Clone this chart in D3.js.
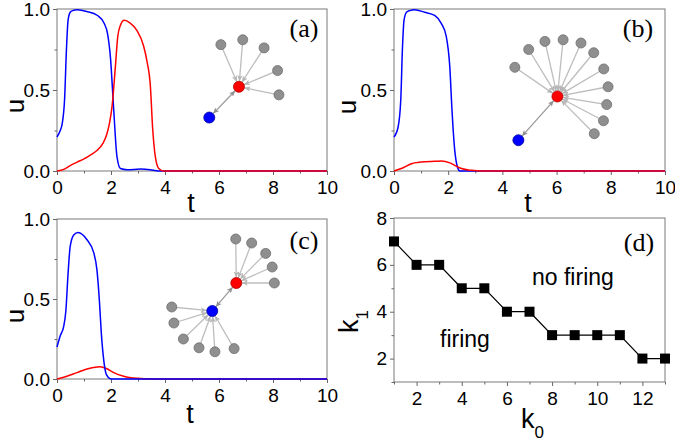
<!DOCTYPE html>
<html><head><meta charset="utf-8">
<script src="https://cdn.jsdelivr.net/npm/d3@7"></script>
<style>body{margin:0;background:#fff}svg{display:block}text{font-family:"Liberation Sans",Arial,sans-serif}</style>
</head><body>
<svg id="c" width="675" height="441"></svg>
<script>
// ---------- DATA ----------
// Panel (a)
const tBlueA = [0, 0.12, 0.19, 0.28, 0.35, 0.41, 0.49, 0.58, 0.75, 1.1, 1.5, 1.75, 1.87, 1.98, 2.1, 2.22, 2.35, 2.6, 3.1, 3.45, 3.75, 4, 10];
const uBlueA = [0.21, 0.25, 0.29, 0.44, 0.75, 0.93, 0.98, 0.99, 0.995, 0.985, 0.96, 0.91, 0.85, 0.7, 0.38, 0.09, 0.015, 0.008, 0.012, 0.008, 0, 0, 0];
const tRedA = [0, 0.25, 0.5, 0.75, 1.0, 1.25, 1.5, 1.7, 1.85, 1.95, 2.04, 2.16, 2.25, 2.35, 2.49, 2.7, 2.95, 3.21, 3.33, 3.46, 3.54, 3.64, 3.77, 3.95, 10];
const uRedA = [0, 0.01, 0.035, 0.055, 0.075, 0.1, 0.13, 0.17, 0.23, 0.3, 0.4, 0.64, 0.83, 0.9, 0.93, 0.915, 0.87, 0.77, 0.68, 0.52, 0.27, 0.09, 0.015, 0, 0];
// Panel (b)
const tBlueB = [0, 0.15, 0.25, 0.31, 0.37, 0.46, 0.58, 0.76, 1.13, 1.5, 1.75, 1.93, 2.06, 2.14, 2.24, 2.34, 2.43, 10];
const uBlueB = [0.21, 0.27, 0.44, 0.75, 0.93, 0.98, 0.99, 0.995, 0.98, 0.96, 0.91, 0.83, 0.64, 0.375, 0.13, 0.025, 0, 0];
const tRedB = [0, 0.27, 0.64, 1.0, 1.5, 1.75, 2.06, 2.24, 2.49, 2.86, 3.25, 10];
const uRedB = [0, 0.015, 0.045, 0.055, 0.06, 0.062, 0.05, 0.035, 0.015, 0.004, 0, 0];
// Panel (c)
const tBlueC = [0, 0.12, 0.25, 0.33, 0.41, 0.49, 0.62, 0.78, 1.11, 1.36, 1.48, 1.57, 1.64, 1.73, 1.83, 1.97, 2.05, 10];
const uBlueC = [0.2, 0.27, 0.33, 0.43, 0.66, 0.83, 0.9, 0.915, 0.87, 0.79, 0.68, 0.49, 0.29, 0.12, 0.027, 0.002, 0, 0];
const tRedC = [0, 0.37, 0.74, 1.11, 1.48, 1.6, 1.85, 2.1, 2.47, 2.96, 3.5, 10];
const uRedC = [0, 0.017, 0.04, 0.062, 0.075, 0.077, 0.064, 0.04, 0.017, 0.004, 0, 0];
// Panel (d)
const k0 = [1, 2, 3, 4, 5, 6, 7, 8, 9, 10, 11, 12, 13];
const k1 = [7, 6, 6, 5, 5, 4, 4, 3, 3, 3, 3, 2, 2];
// Tick labels
const tTicks = [0, 2, 4, 6, 8, 10];
const tMinor = [1, 3, 5, 7, 9];
const uTicks = [0, 0.5, 1.0];
const uMinor = [0.25, 0.75];
const k0Ticks = [2, 4, 6, 8, 10, 12];
const k0Minor = [1, 3, 5, 7, 9, 11, 13];
const k1Ticks = [2, 4, 6, 8];
const k1Minor = [1, 3, 5, 7];
// Network insets (node positions in panel data units t,u)
const netA_red = [6.74, 0.52], netA_blue = [5.64, 0.33];
const netA_grayT = [6.07, 6.88, 7.67, 8.17, 8.22];
const netA_grayU = [0.78, 0.81, 0.76, 0.62, 0.47];
const netB_red = [6.03, 0.46], netB_blue = [4.59, 0.19];
const netB_grayT = [4.46, 4.97, 5.57, 6.24, 6.90, 7.37, 7.74, 7.90, 7.85, 7.73, 7.39];
const netB_grayU = [0.64, 0.75, 0.80, 0.81, 0.79, 0.73, 0.63, 0.52, 0.41, 0.31, 0.23];
const netC_red = [6.64, 0.60], netC_blue = [5.75, 0.425];
const netC_grayRT = [6.62, 7.21, 7.73, 7.97, 8.05];
const netC_grayRU = [0.875, 0.85, 0.785, 0.70, 0.60];
const netC_grayBT = [4.25, 4.33, 4.68, 5.26, 5.85, 6.56];
const netC_grayBU = [0.45, 0.35, 0.25, 0.195, 0.17, 0.19];

// ---------- DRAW ----------
const svg = d3.select("#c");
const defs = svg.append("defs");
function mk(id, col) {
  defs.append("marker").attr("id", id).attr("viewBox", "0 0 10 10")
    .attr("refX", 10).attr("refY", 5).attr("markerWidth", 6).attr("markerHeight", 6)
    .attr("markerUnits", "userSpaceOnUse").attr("orient", "auto-start-reverse")
    .append("path").attr("d", "M0,0.5 L10,5 L0,9.5 L2.5,5 z").attr("fill", col);
}
mk("arL", "#b5b5b5");
mk("arD", "#909090");

const AX = "#666";
function panel(o) {
  const g = svg.append("g");
  const x = d3.scaleLinear().domain(o.xd).range([o.x0, o.x1]);
  const y = d3.scaleLinear().domain(o.yd).range([o.y0, o.y1]);
  g.append("rect").attr("x", o.x0).attr("y", o.y1).attr("width", o.x1 - o.x0).attr("height", o.y0 - o.y1)
    .attr("fill", "none").attr("stroke", "#7a7a7a").attr("stroke-width", 1);
  const styleAx = s => { s.select(".domain").remove(); s.selectAll("line").attr("stroke", AX);
    s.selectAll("text").attr("fill", "#000").style("font-size", "19px").attr("font-family", "Liberation Sans, Arial"); };
  g.append("g").attr("transform", `translate(0,${o.y0})`)
    .call(d3.axisBottom(x).tickValues(o.xt).tickSize(4).tickPadding(6).tickFormat(d3.format("d"))).call(styleAx);
  g.append("g").attr("transform", `translate(0,${o.y0})`)
    .call(d3.axisBottom(x).tickValues(o.xm).tickSize(2.5).tickFormat("")).call(styleAx);
  g.append("g").attr("transform", `translate(${o.x0},0)`)
    .call(d3.axisLeft(y).tickValues(o.yt).tickSize(4).tickPadding(3).tickFormat(o.yf)).call(styleAx);
  g.append("g").attr("transform", `translate(${o.x0},0)`)
    .call(d3.axisLeft(y).tickValues(o.ym).tickSize(2.5).tickFormat("")).call(styleAx);
  return { g, x, y };
}

const uFmt = d3.format(".1f");
const pA = panel({ x0: 57, x1: 327, y0: 171, y1: 9, xd: [0, 10], yd: [0, 1], xt: tTicks, xm: tMinor, yt: uTicks, ym: uMinor, yf: uFmt });
const pB = panel({ x0: 394, x1: 665, y0: 171, y1: 9, xd: [0, 10], yd: [0, 1], xt: tTicks, xm: tMinor, yt: uTicks, ym: uMinor, yf: uFmt });
const pC = panel({ x0: 57, x1: 327, y0: 379, y1: 219, xd: [0, 10], yd: [0, 1], xt: tTicks, xm: tMinor, yt: uTicks, ym: uMinor, yf: uFmt });
const pD = panel({ x0: 394, x1: 665, y0: 382, y1: 218, xd: [1, 13], yd: [1, 8], xt: k0Ticks, xm: k0Minor, yt: k1Ticks, ym: k1Minor, yf: d3.format("d") });

function curve(p, ts, us, col) {
  const line = d3.line().x((d, i) => p.x(ts[i])).y(d => p.y(d)).curve(d3.curveMonotoneX);
  p.g.append("path").attr("d", line(us)).attr("fill", "none").attr("stroke", col).attr("stroke-width", 1.5);
}
curve(pA, tBlueA, uBlueA, "#0000ff");
curve(pA, tRedA, uRedA, "#ff0000");
curve(pB, tBlueB, uBlueB, "#0000ff");
curve(pB, tRedB, uRedB, "#ff0000");
curve(pC, tRedC, uRedC, "#ff0000");
curve(pC, tBlueC, uBlueC, "#0000ff");

// Panel (d)
const lineD = d3.line().x((d, i) => pD.x(k0[i])).y(d => pD.y(d));
pD.g.append("path").attr("d", lineD(k1)).attr("fill", "none").attr("stroke", "#000").attr("stroke-width", 1.2);
pD.g.selectAll("rect.m").data(k1).enter().append("rect")
  .attr("x", (d, i) => pD.x(k0[i]) - 5).attr("y", d => pD.y(d) - 5).attr("width", 10).attr("height", 10).attr("fill", "#000");
pD.g.append("text").attr("x", 532).attr("y", 285).style("font-size", "23px").text("no firing");
pD.g.append("text").attr("x", 440).attr("y", 347).style("font-size", "23px").text("firing");

// Networks
function edge(p, a, b, marker, col, both) {
  const x1 = p.x(a[0]), y1 = p.y(a[1]), x2 = p.x(b[0]), y2 = p.y(b[1]);
  const dx = x2 - x1, dy = y2 - y1, L = Math.hypot(dx, dy);
  const r = 5.5;
  const sx = both ? x1 + dx / L * r : x1, sy = both ? y1 + dy / L * r : y1;
  const ex = x2 - dx / L * r, ey = y2 - dy / L * r;
  const l = p.g.append("line").attr("x1", sx).attr("y1", sy).attr("x2", ex).attr("y2", ey)
    .attr("stroke", col).attr("stroke-width", 1.3).attr("marker-end", `url(#${marker})`);
  if (both) l.attr("marker-start", `url(#${marker})`);
}
function node(p, c, fill, stroke, r) {
  p.g.append("circle").attr("cx", p.x(c[0])).attr("cy", p.y(c[1])).attr("r", r)
    .attr("fill", fill).attr("stroke", stroke).attr("stroke-width", 0.8);
}
function network(p, red, blue, groups) {
  groups.forEach(gr => gr.ts.forEach((t, i) => edge(p, [t, gr.us[i]], gr.target, "arL", "#bdbdbd", false)));
  edge(p, blue, red, "arD", "#9a9a9a", true);
  groups.forEach(gr => gr.ts.forEach((t, i) => node(p, [t, gr.us[i]], "#8f8f8f", "#6f6f6f", 5)));
  node(p, red, "#ff0000", "#b00000", 5.5);
  node(p, blue, "#0000ff", "#0000a0", 5.5);
}
network(pA, netA_red, netA_blue, [{ ts: netA_grayT, us: netA_grayU, target: netA_red }]);
network(pB, netB_red, netB_blue, [{ ts: netB_grayT, us: netB_grayU, target: netB_red }]);
network(pC, netC_red, netC_blue, [{ ts: netC_grayRT, us: netC_grayRU, target: netC_red }, { ts: netC_grayBT, us: netC_grayBU, target: netC_blue }]);

// Labels
const serif = "Liberation Serif, Times New Roman, serif";
[["(a)", 304, 37], ["(b)", 638, 37], ["(c)", 304, 249], ["(d)", 639, 251]].forEach(d => {
  svg.append("text").attr("x", d[1]).attr("y", d[2]).attr("text-anchor", "middle")
    .style("font-family", serif).style("font-size", "26px").text(d[0]);
});
[[24, 106], [356, 107], [24, 316]].forEach(d => {
  svg.append("text").attr("transform", `translate(${d[0]},${d[1]}) rotate(-90)`).attr("text-anchor", "middle")
    .style("font-size", "26px").text("u");
});
[[191, 212], [528, 212], [190, 423]].forEach(d => {
  svg.append("text").attr("x", d[0]).attr("y", d[1]).attr("text-anchor", "middle").style("font-size", "27px").text("t");
});
const kx = svg.append("text").attr("x", 521).attr("y", 428).style("font-size", "27px");
kx.append("tspan").text("k");
kx.append("tspan").attr("dy", 10).style("font-size", "17px").text("0");
const ky = svg.append("text").attr("transform", "translate(358,333) rotate(-90)").style("font-size", "27px");
ky.append("tspan").text("k");
ky.append("tspan").attr("dy", 10).style("font-size", "17px").text("1");
</script>
</body></html>
